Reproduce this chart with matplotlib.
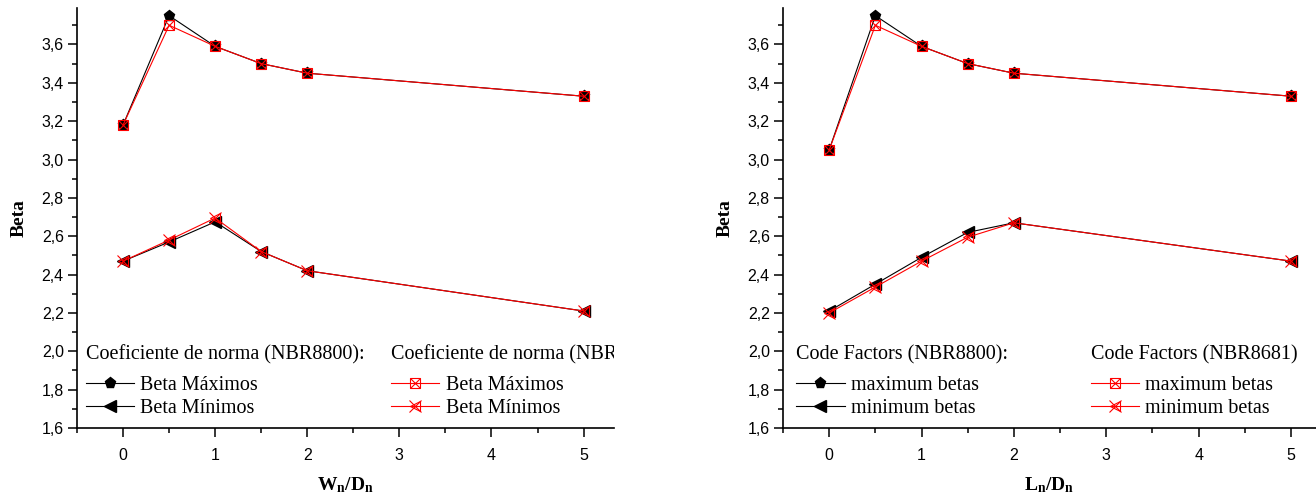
import matplotlib
matplotlib.use("Agg")
import matplotlib.pyplot as plt
import matplotlib.ticker as ticker
from matplotlib.legend_handler import HandlerTuple

# ===== Data =====
ratio = [0, 0.5, 1, 1.5, 2, 5]

# left panel: W_n/D_n
w_max_8800 = [3.18, 3.75, 3.59, 3.50, 3.45, 3.33]
w_max_8681 = [3.18, 3.70, 3.59, 3.50, 3.45, 3.33]
w_min_8800 = [2.47, 2.57, 2.675, 2.52, 2.42, 2.21]
w_min_8681 = [2.47, 2.58, 2.695, 2.52, 2.42, 2.21]

# right panel: L_n/D_n
l_max_8800 = [3.05, 3.75, 3.59, 3.50, 3.45, 3.33]
l_max_8681 = [3.05, 3.70, 3.59, 3.50, 3.45, 3.33]
l_min_8800 = [2.21, 2.35, 2.49, 2.62, 2.67, 2.47]
l_min_8681 = [2.20, 2.335, 2.47, 2.595, 2.67, 2.47]

# ===== Styling =====
serif = "Liberation Serif"
sans = "Liberation Sans"
plt.rcParams["font.family"] = sans
plt.rcParams["mathtext.fontset"] = "custom"
plt.rcParams["mathtext.rm"] = serif
plt.rcParams["mathtext.bf"] = serif + ":bold"
plt.rcParams["mathtext.it"] = serif + ":italic"

lw = 0.8
ms = 7
leg_size = 14.5
tick_size = 11.5
label_size = 14


def comma_fmt(v, pos):
    return ("%.1f" % v).replace(".", ",")


def draw_panel(ax, xs, bmax, rmax, bmin, rmin, xlabel, head_l, head_r,
               lab_max, lab_min, xmax, leg_x, leg_x2):
    hb1, = ax.plot(xs, bmax, color="black", lw=lw, marker="p", ms=ms + 1)
    hb2, = ax.plot(xs, bmin, color="black", lw=lw, marker="<", ms=ms + 1)
    hr1, = ax.plot(xs, rmax, color="red", lw=lw, marker="s", ms=ms, mfc="none", mew=0.8)
    hr1x, = ax.plot(xs, rmax, color="red", ls="none", marker="x", ms=ms, mew=0.8)
    hr2, = ax.plot(xs, rmin, color="red", lw=lw, marker="<", ms=ms, mfc="none", mew=0.8)
    hr2x, = ax.plot(xs, rmin, color="red", ls="none", marker="x", ms=ms + 2, mew=0.8)

    ax.set_xlim(-0.5, xmax)
    ax.set_ylim(1.6, 3.79)
    ax.xaxis.set_major_locator(ticker.MultipleLocator(1))
    ax.xaxis.set_minor_locator(ticker.MultipleLocator(0.5))
    ax.yaxis.set_major_locator(ticker.MultipleLocator(0.2))
    ax.yaxis.set_minor_locator(ticker.MultipleLocator(0.1))
    ax.yaxis.set_major_formatter(ticker.FuncFormatter(comma_fmt))
    ax.tick_params(which="major", length=6.5, width=1.1, labelsize=tick_size, pad=3)
    ax.tick_params(which="minor", length=3.5, width=1.1)
    ax.tick_params(axis="x", pad=8)
    for s in ["top", "right"]:
        ax.spines[s].set_visible(False)
    for s in ["left", "bottom"]:
        ax.spines[s].set_linewidth(1.2)

    ax.set_xlabel(xlabel, fontsize=label_size, labelpad=9)
    ax.set_ylabel("Beta", fontsize=label_size, fontweight="bold", family=serif, labelpad=10)

    # legend headers
    ax.text(leg_x, 0.174, head_l, transform=ax.transAxes, fontsize=leg_size,
            family=serif, va="center", ha="left", clip_on=True)
    ax.text(leg_x2, 0.174, head_r, transform=ax.transAxes, fontsize=leg_size,
            family=serif, va="center", ha="left", clip_on=True)

    common = dict(frameon=False, loc="upper left", borderpad=0, borderaxespad=0,
                  handlelength=2.4, handletextpad=0.3, labelspacing=0.2,
                  prop={"family": serif, "size": leg_size},
                  handler_map={tuple: HandlerTuple(ndivide=1)})
    l1 = ax.legend([hb1, hb2], [lab_max, lab_min], bbox_to_anchor=(leg_x, 0.125), **common)
    ax.add_artist(l1)
    ax.legend([(hr1, hr1x), (hr2, hr2x)], [lab_max, lab_min],
              bbox_to_anchor=(leg_x2, 0.125), **common)


fig = plt.figure(figsize=(13.16, 5.01), dpi=100)
ax1 = fig.add_axes([77 / 1316, 73 / 501, 537 / 1316, 420 / 501])
ax2 = fig.add_axes([783 / 1316, 73 / 501, 533 / 1316, 420 / 501])

draw_panel(ax1, ratio, w_max_8800, w_max_8681, w_min_8800, w_min_8681,
           r"$\mathbf{W_n/D_n}$", "Coeficiente de norma (NBR8800):",
           "Coeficiente de norma (NBR8681)", "Beta Máximos", "Beta Mínimos",
           5.33, 0.016, 0.585)
draw_panel(ax2, ratio, l_max_8800, l_max_8681, l_min_8800, l_min_8681,
           r"$\mathbf{L_n/D_n}$", "Code Factors (NBR8800):",
           "Code Factors (NBR8681)", "maximum betas", "minimum betas",
           5.27, 0.025, 0.577)

fig.savefig("out.png", dpi=100)
